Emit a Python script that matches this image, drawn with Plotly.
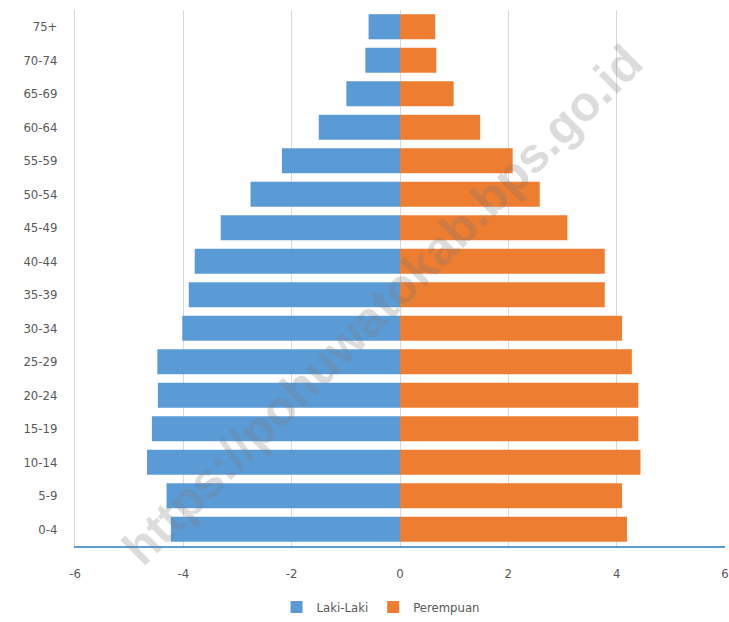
import plotly.graph_objects as go

age_groups = ["0-4", "5-9", "10-14", "15-19", "20-24", "25-29", "30-34", "35-39",
              "40-44", "45-49", "50-54", "55-59", "60-64", "65-69", "70-74", "75+"]
age_labels = ["0-4", "5-9", "10-14", "15-19", "20-24", "25-29", "30-34", "35-39",
              "40-44", "45-49", "50-54", "55-59", "60-64", "65-69", "70-74", "75+"]
laki_laki = [-4.23, -4.31, -4.67, -4.58, -4.47, -4.48, -4.02, -3.90,
             -3.79, -3.31, -2.76, -2.18, -1.50, -0.99, -0.64, -0.58]
perempuan = [4.19, 4.10, 4.44, 4.40, 4.40, 4.28, 4.10, 3.78,
             3.78, 3.09, 2.58, 2.08, 1.48, 0.99, 0.67, 0.65]
x_tickvals = [-6, -4, -2, 0, 2, 4, 6]
x_ticktext = ["-6", "-4", "-2", "0", "2", "4", "6"]
series_names = ["Laki-Laki", "Perempuan"]
watermark = "https://pohuwatokab.bps.go.id"

font_family = "DejaVu Sans Condensed, Liberation Sans Narrow, Arial Narrow, sans-serif"
text_color = "#595959"

fig = go.Figure()
fig.add_trace(go.Bar(y=age_groups, x=laki_laki, orientation="h", name=series_names[0],
                     marker=dict(color="#5B9BD5", line=dict(width=0))))
fig.add_trace(go.Bar(y=age_groups, x=perempuan, orientation="h", name=series_names[1],
                     marker=dict(color="#ED7D31", line=dict(width=0))))

fig.update_layout(
    width=729, height=622,
    margin=dict(l=75, r=4, t=10, b=76),
    paper_bgcolor="white", plot_bgcolor="white",
    barmode="relative", bargap=0.25,
    font=dict(family=font_family, size=13, color=text_color),
    showlegend=True,
    legend=dict(orientation="h", xref="container", yref="container",
                x=0.522, y=0.024, xanchor="center", yanchor="middle",
                font=dict(size=13, color=text_color),
                itemwidth=30, traceorder="normal"),
    xaxis=dict(range=[-6, 6], tickvals=x_tickvals, ticktext=x_ticktext,
               showgrid=True, gridcolor="#D9D9D9", gridwidth=1,
               zeroline=False, showline=True, linecolor="#5B9BD5", linewidth=2,
               ticks="", ticklabelstandoff=14, automargin=False, fixedrange=True),
    yaxis=dict(categoryorder="array", categoryarray=age_groups,
               tickvals=age_groups, ticktext=age_labels,
               showgrid=False, zeroline=False, showline=True,
               linecolor="#D9D9D9", linewidth=1, ticks="",
               ticklabelstandoff=14, automargin=False),
)

fig.add_annotation(text="<b>" + watermark + "</b>", xref="paper", yref="paper",
                   x=0.472, y=0.45, showarrow=False, textangle=-45,
                   font=dict(family="Liberation Sans, Arial, sans-serif", size=49,
                             color="rgba(120,120,120,0.26)"))

fig.write_html("out.html",
               config={"displayModeBar": False},
               post_script="document.body.style.margin='0';document.body.style.overflow='hidden';")
